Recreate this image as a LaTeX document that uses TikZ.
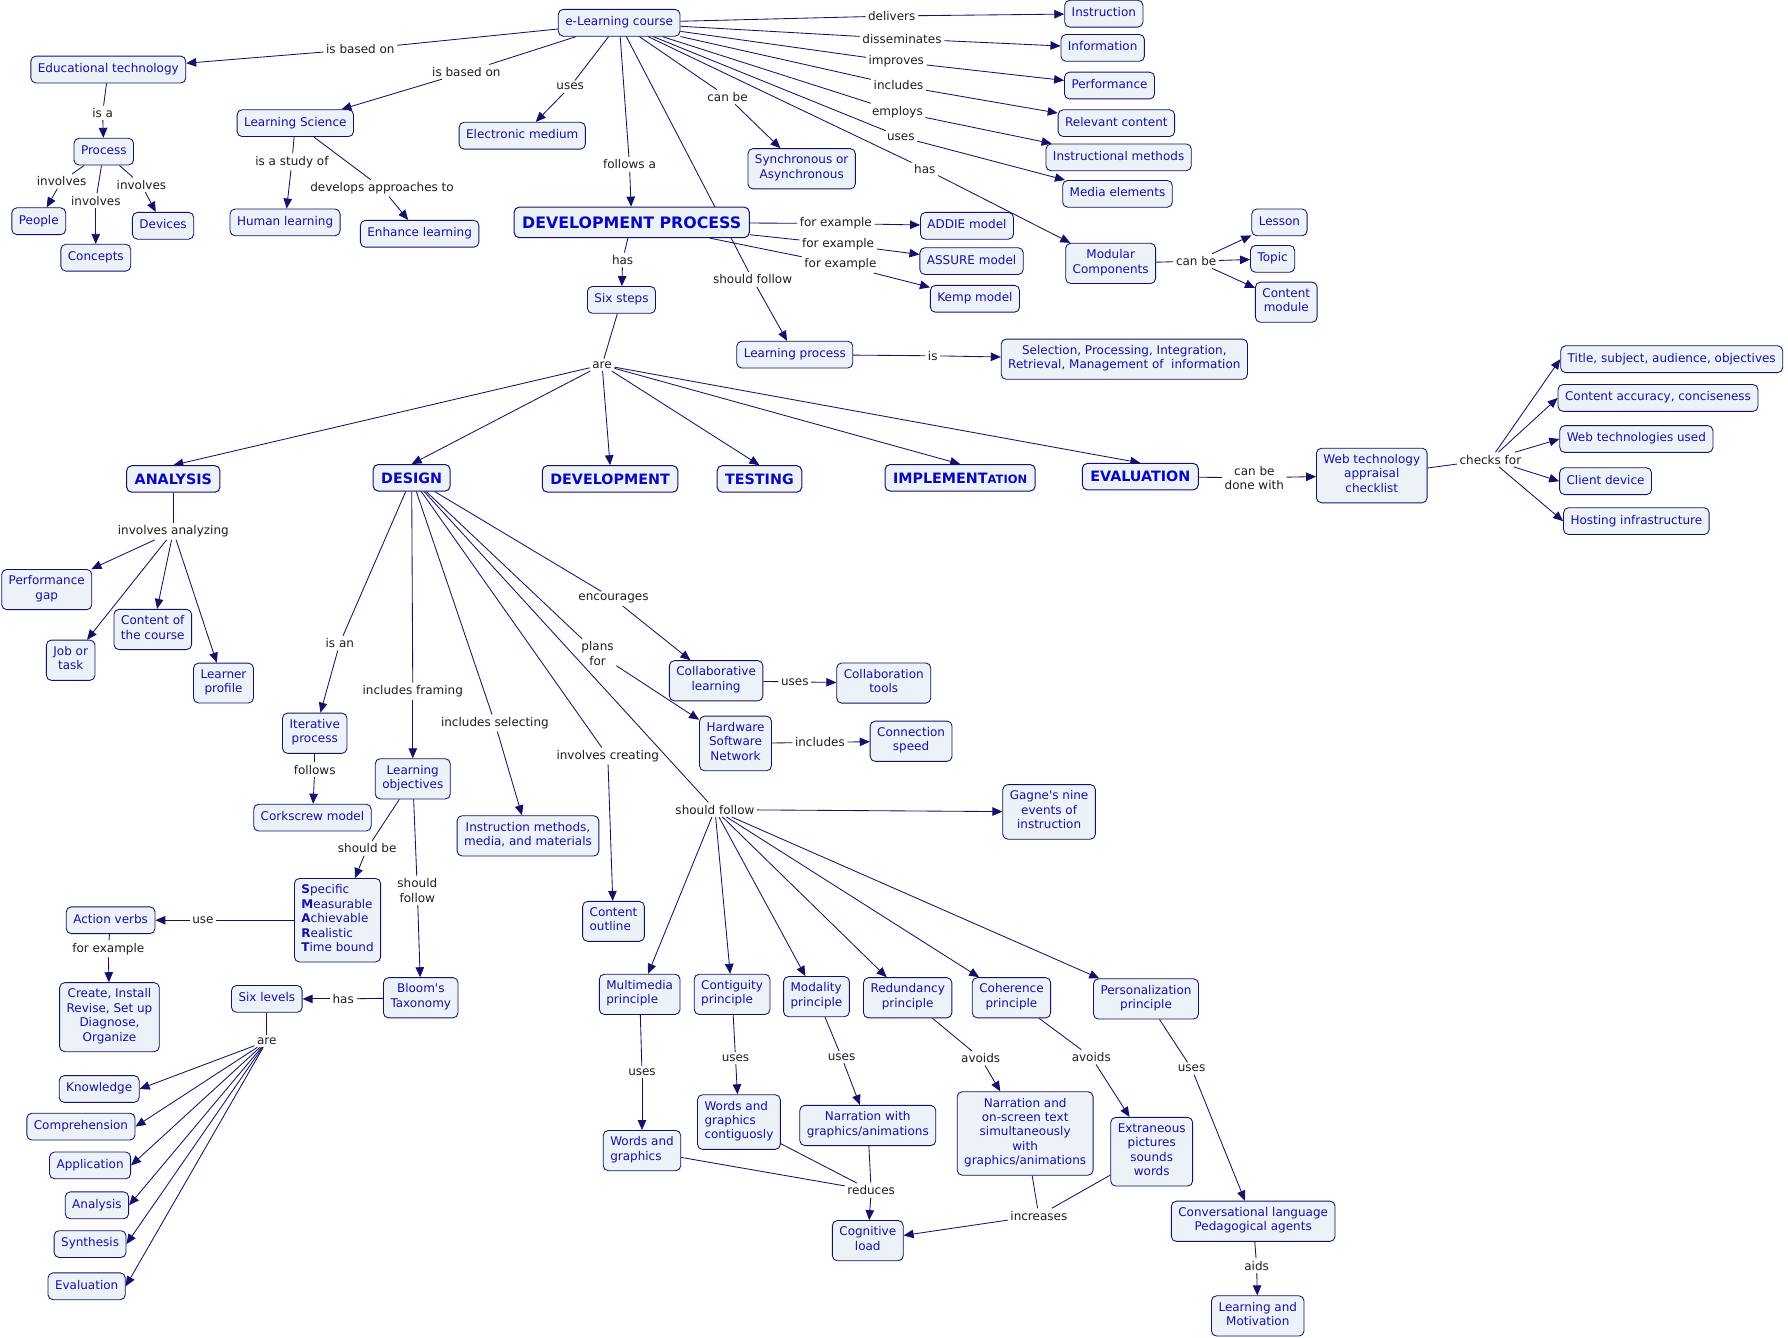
\documentclass[tikz,border=0pt]{standalone}
\usepackage{fontspec}
\setmainfont{DejaVu Sans}
\usetikzlibrary{arrows.meta,backgrounds}
\definecolor{cmapline}{HTML}{12126A}
\definecolor{cmaptext}{HTML}{1212A6}
\definecolor{cmaphead}{HTML}{0808C4}
\definecolor{cmapfill}{HTML}{EDF2F8}
\definecolor{cmapword}{HTML}{1E1E1E}

\begin{document}
\begin{tikzpicture}[x=1.1403pt,y=-1.1403pt,
  concept/.style={draw=cmapline,fill=cmapfill,rounded corners=5pt,line width=0.85pt,text=cmaptext,align=center,inner xsep=7pt,inner ysep=6.2pt,font=\fontsize{12}{14.4}\selectfont,execute at begin node=\strut,execute at end node=\strut},
  stage/.style={concept,font=\fontsize{14.3}{17}\selectfont\bfseries,text=cmaphead,execute at begin node={},execute at end node={},text height=10.5pt,text depth=0pt,inner xsep=8pt,inner ysep=8pt,line width=1pt},
  linkword/.style={font=\fontsize{12}{14.4}\selectfont,text=cmapword,align=center,inner sep=2.5pt},
  link/.style={draw=cmapline,line width=0.85pt},
  arrow/.style={link,-{Triangle[length=10pt,width=8.5pt]}}]
\useasboundingbox (0,0) rectangle (1568,1173);

\node[concept] (elc) at (543,20) {e-Learning course};
\node[concept] (edtech) at (95,61) {Educational technology};
\node[concept] (lsci) at (259,108) {Learning Science};
\node[concept] (emed) at (458,119) {Electronic medium};
\node[stage,font=\fontsize{15.8}{18}\selectfont\bfseries,text height=11.5pt,inner ysep=9.5pt] (devproc) at (554,195) {DEVELOPMENT PROCESS};
\node[concept] (sync) at (703,148) {Synchronous or\\Asynchronous};
\node[concept] (instr) at (968,12) {Instruction};
\node[concept] (info) at (967,42) {Information};
\node[concept] (perf) at (973,75) {Performance};
\node[concept] (relc) at (979,108) {Relevant content};
\node[concept] (instm) at (981,138) {Instructional methods};
\node[concept] (media) at (980,170) {Media elements};
\node[concept] (modc) at (974,231) {Modular\\Components};
\node[concept] (lesson) at (1122,195) {Lesson};
\node[concept] (topic) at (1116,227) {Topic};
\node[concept] (cmod) at (1128,265) {Content\\module};
\node[concept] (addie) at (848,198) {ADDIE model};
\node[concept] (assure) at (852,229) {ASSURE model};
\node[concept] (kemp) at (855,262) {Kemp model};
\node[concept] (sixsteps) at (545,263) {Six steps};
\node[concept] (lproc) at (697,311) {Learning process};
\node[concept] (selproc) at (986,315) {Selection, Processing, Integration,\\Retrieval, Management of~ information};
\node[concept] (process) at (91,133) {Process};
\node[concept] (people) at (34,194) {People};
\node[concept] (concepts) at (84,226) {Concepts};
\node[concept] (devices) at (143,198) {Devices};
\node[concept] (hlearn) at (250,195) {Human learning};
\node[concept] (enhl) at (368,205) {Enhance learning};

\node[stage] (analysis) at (152,420) {ANALYSIS};
\node[stage] (design) at (361,419) {DESIGN};
\node[stage] (develop) at (535,420) {DEVELOPMENT};
\node[stage] (testing) at (666,420) {TESTING};
\node[stage] (implem) at (842,419) {IMPLEMENT{\fontsize{11.5}{12}\selectfont ATION}};
\node[stage] (evalu) at (1000,418) {EVALUATION};
\node[concept] (webtech) at (1203,417) {Web technology\\appraisal\\checklist};
\node[concept] (tsao) at (1466,315) {Title, subject, audience, objectives};
\node[concept] (cacc) at (1454,349) {Content accuracy, conciseness};
\node[concept] (webused) at (1435,385) {Web technologies used};
\node[concept] (client) at (1408,422) {Client device};
\node[concept] (hosting) at (1435,457) {Hosting infrastructure};

\node[concept] (pgap) at (41,517) {Performance\\gap};
\node[concept] (jobtask) at (62,579) {Job or\\task};
\node[concept] (ccourse) at (134,552) {Content of\\the course};
\node[concept] (lprofile) at (196,599) {Learner\\profile};

\node[concept] (iterp) at (276,643) {Iterative\\process};
\node[concept] (corks) at (274,717) {Corkscrew model};
\node[concept] (lobj) at (362,683) {Learning\\objectives};
\node[concept] (imm) at (463,733) {Instruction methods,\\media, and materials};
\node[concept,align=left] (smart) at (296,807) {\textbf{S}pecific\\\textbf{M}easurable\\\textbf{A}chievable\\\textbf{R}ealistic\\\textbf{T}ime bound};
\node[concept] (actv) at (97,807) {Action verbs};
\node[concept] (verbs) at (96,892) {Create, Install\\Revise, Set up\\Diagnose,\\Organize};
\node[concept] (bloom) at (369,875) {Bloom\textquotesingle s\\Taxonomy};
\node[concept] (sixlev) at (234,876) {Six levels};
\node[concept] (lvknow) at (87,955) {Knowledge};
\node[concept] (lvcomp) at (71,988) {Comprehension};
\node[concept] (lvappl) at (79,1022) {Application};
\node[concept] (lvanal) at (85,1057) {Analysis};
\node[concept] (lvsynth) at (79,1091) {Synthesis};
\node[concept] (lveval) at (76,1128) {Evaluation};

\node[concept] (collab) at (628,597) {Collaborative\\learning};
\node[concept] (colltools) at (775,599) {Collaboration\\tools};
\node[concept] (hsn) at (645,652) {Hardware\\Software\\Network};
\node[concept] (cspeed) at (799,650) {Connection\\speed};
\node[concept] (gagne) at (920,712) {Gagne\textquotesingle s nine\\events of\\instruction};
\node[concept,align=left] (coutline) at (538,808) {Content\\outline};
\node[concept,align=left] (pmulti) at (561,872) {Multimedia\\principle};
\node[concept,align=left] (pcontig) at (642,872) {Contiguity\\principle};
\node[concept,align=left] (pmodal) at (716,874) {Modality\\principle};
\node[concept] (predund) at (796,875) {Redundancy\\principle};
\node[concept] (pcoher) at (887,875) {Coherence\\principle};
\node[concept] (pperson) at (1005,876) {Personalization\\principle};
\node[concept,align=left] (wag) at (563,1009) {Words and\\graphics};
\node[concept,align=left] (wagc) at (648,984) {Words and\\graphics\\contiguosly};
\node[concept] (narrg) at (761,987) {Narration with\\graphics/animations};
\node[concept] (narros) at (899,994) {Narration and\\on-screen text\\simultaneously\\with\\graphics/animations};
\node[concept] (extran) at (1010,1010) {Extraneous\\pictures\\sounds\\words};
\node[concept] (cogload) at (761,1088) {Cognitive\\load};
\node[concept] (convlang) at (1099,1071) {Conversational language\\Pedagogical agents};
\node[concept] (lmotiv) at (1103,1154) {Learning and\\Motivation};

\node[linkword] (wBasedA) at (316,43) {is based on};
\node[linkword] (wBasedB) at (409,63) {is based on};
\node[linkword] (wUsesEm) at (500,76) {uses};
\node[linkword] (wFollows) at (552,144) {follows a};
\node[linkword] (wCanSync) at (638,85) {can be};
\node[linkword] (wDelivers) at (782,14) {delivers};
\node[linkword] (wDissem) at (791,34) {disseminates};
\node[linkword] (wImproves) at (786,54) {improves};
\node[linkword] (wIncludes) at (788,75) {includes};
\node[linkword] (wEmploys) at (787,98) {employs};
\node[linkword] (wUsesMe) at (790,120) {uses};
\node[linkword] (wHasMod) at (811,148) {has};
\node[linkword] (wShouldLp) at (660,245) {should follow};
\node[linkword] (wHasSix) at (546,228) {has};
\node[linkword] (wEgA) at (733,196) {for example};
\node[linkword] (wEgB) at (735,214) {for example};
\node[linkword] (wEgC) at (737,232) {for example};
\node[linkword] (wIs) at (818,312) {is};
\node[linkword] (wCanMod) at (1049,229) {can be};
\node[linkword] (wIsA) at (90,99) {is a};
\node[linkword] (wInvA) at (54,159) {involves};
\node[linkword] (wInvB) at (84,176) {involves};
\node[linkword] (wInvC) at (124,162) {involves};
\node[linkword] (wStudy) at (256,142) {is a study of};
\node[linkword] (wDevelops) at (335,165) {develops approaches to};
\node[linkword] (wAre) at (528,320) {are};
\node[linkword] (wDoneWith) at (1100,419) {can be\\done with};
\node[linkword] (wChecks) at (1307,403) {checks for};
\node[linkword] (wAnalyzing) at (152,466) {involves analyzing};
\node[linkword] (wIsAn) at (298,564) {is an};
\node[linkword] (wFraming) at (362,606) {includes framing};
\node[linkword] (wSelecting) at (434,634) {includes selecting};
\node[linkword] (wCreating) at (533,663) {involves creating};
\node[linkword] (wEncour) at (538,525) {encourages};
\node[linkword] (wPlans) at (524,573) {plans\\for};
\node[linkword] (wShouldD) at (627,710) {should follow};
\node[linkword] (wFollowsC) at (276,675) {follows};
\node[linkword] (wShouldBe) at (322,744) {should be};
\node[linkword] (wShouldB) at (366,781) {should\\follow};
\node[linkword] (wUse) at (178,807) {use};
\node[linkword] (wEgV) at (95,832) {for example};
\node[linkword] (wHasLev) at (301,876) {has};
\node[linkword] (wAreLev) at (234,913) {are};
\node[linkword] (wUsesCl) at (697,598) {uses};
\node[linkword] (wInclCs) at (719,651) {includes};
\node[linkword] (wUsesM) at (563,940) {uses};
\node[linkword] (wUsesC) at (645,928) {uses};
\node[linkword] (wUsesMo) at (738,927) {uses};
\node[linkword] (wAvoidsR) at (860,928) {avoids};
\node[linkword] (wAvoidsC) at (957,927) {avoids};
\node[linkword] (wUsesP) at (1045,937) {uses};
\node[linkword] (wReduces) at (764,1044) {reduces};
\node[linkword] (wIncreases) at (911,1066) {increases};
\node[linkword] (wAids) at (1102,1110) {aids};

\begin{scope}[on background layer]
\fill[white] (0,0) rectangle (1568,1173);
\foreach \w/\t in {wBasedA/edtech,wBasedB/lsci,wUsesEm/emed,wFollows/devproc,wCanSync/sync,
  wDelivers/instr,wDissem/info,wImproves/perf,wIncludes/relc,wEmploys/instm,wUsesMe/media,
  wHasMod/modc,wShouldLp/lproc}
  {\draw[link] (elc) -- (\w); \draw[arrow] (\w) -- (\t);}
\foreach \w/\t in {wHasSix/sixsteps,wEgA/addie,wEgB/assure,wEgC/kemp}
  {\draw[link] (devproc) -- (\w); \draw[arrow] (\w) -- (\t);}
\draw[link] (lproc) -- (wIs); \draw[arrow] (wIs) -- (selproc);
\draw[link] (modc) -- (wCanMod);
\foreach \t in {lesson,topic,cmod} \draw[arrow] (wCanMod) -- (\t);
\draw[link] (edtech) -- (wIsA); \draw[arrow] (wIsA) -- (process);
\foreach \w/\t in {wInvA/people,wInvB/concepts,wInvC/devices}
  {\draw[link] (process) -- (\w); \draw[arrow] (\w) -- (\t);}
\draw[link] (lsci) -- (wStudy); \draw[arrow] (wStudy) -- (hlearn);
\draw[link] (lsci) -- (wDevelops); \draw[arrow] (wDevelops) -- (enhl);

\draw[link] (sixsteps) -- (wAre);
\foreach \t in {analysis,design,develop,testing,implem,evalu} \draw[arrow] (wAre) -- (\t.north);
\draw[link] (evalu) -- (wDoneWith); \draw[arrow] (wDoneWith) -- (webtech);
\draw[link] (webtech) -- (wChecks);
\foreach \t in {tsao,cacc,webused,client,hosting} \draw[arrow] (wChecks) -- (\t.west);
\draw[link] (analysis) -- (wAnalyzing);
\foreach \t in {pgap,jobtask,ccourse,lprofile} \draw[arrow] (wAnalyzing) -- (\t);

\foreach \w/\t in {wIsAn/iterp,wFraming/lobj,wSelecting/imm,wCreating/coutline,wEncour/collab,wPlans/hsn}
  {\draw[link] (design) -- (\w); \draw[arrow] (\w) -- (\t);}
\draw[link] (design) -- (wShouldD);
\foreach \t in {gagne,pmulti,pcontig,pmodal,predund,pcoher,pperson} \draw[arrow] (wShouldD) -- (\t);
\draw[link] (iterp) -- (wFollowsC); \draw[arrow] (wFollowsC) -- (corks);
\draw[link] (lobj) -- (wShouldBe); \draw[arrow] (wShouldBe) -- (smart);
\draw[link] (lobj) -- (wShouldB); \draw[arrow] (wShouldB) -- (bloom);
\draw[link] (smart) -- (wUse); \draw[arrow] (wUse) -- (actv);
\draw[link] (actv) -- (wEgV); \draw[arrow] (wEgV) -- (verbs);
\draw[link] (bloom) -- (wHasLev); \draw[arrow] (wHasLev) -- (sixlev);
\draw[link] (sixlev) -- (wAreLev);
\foreach \t in {lvknow,lvcomp,lvappl,lvanal,lvsynth,lveval} \draw[arrow] (wAreLev) -- (\t.east);

\draw[link] (collab) -- (wUsesCl); \draw[arrow] (wUsesCl) -- (colltools);
\draw[link] (hsn) -- (wInclCs); \draw[arrow] (wInclCs) -- (cspeed);
\foreach \s/\w/\t in {pmulti/wUsesM/wag,pcontig/wUsesC/wagc,pmodal/wUsesMo/narrg,
  predund/wAvoidsR/narros,pcoher/wAvoidsC/extran,pperson/wUsesP/convlang}
  {\draw[link] (\s) -- (\w); \draw[arrow] (\w) -- (\t);}
\foreach \s in {wag,wagc,narrg} \draw[link] (\s) -- (wReduces);
\draw[arrow] (wReduces) -- (cogload);
\foreach \s in {narros,extran} \draw[link] (\s) -- (wIncreases);
\draw[arrow] (wIncreases) -- (cogload);
\draw[link] (convlang) -- (wAids); \draw[arrow] (wAids) -- (lmotiv);
\end{scope}
\end{tikzpicture}
\end{document}
